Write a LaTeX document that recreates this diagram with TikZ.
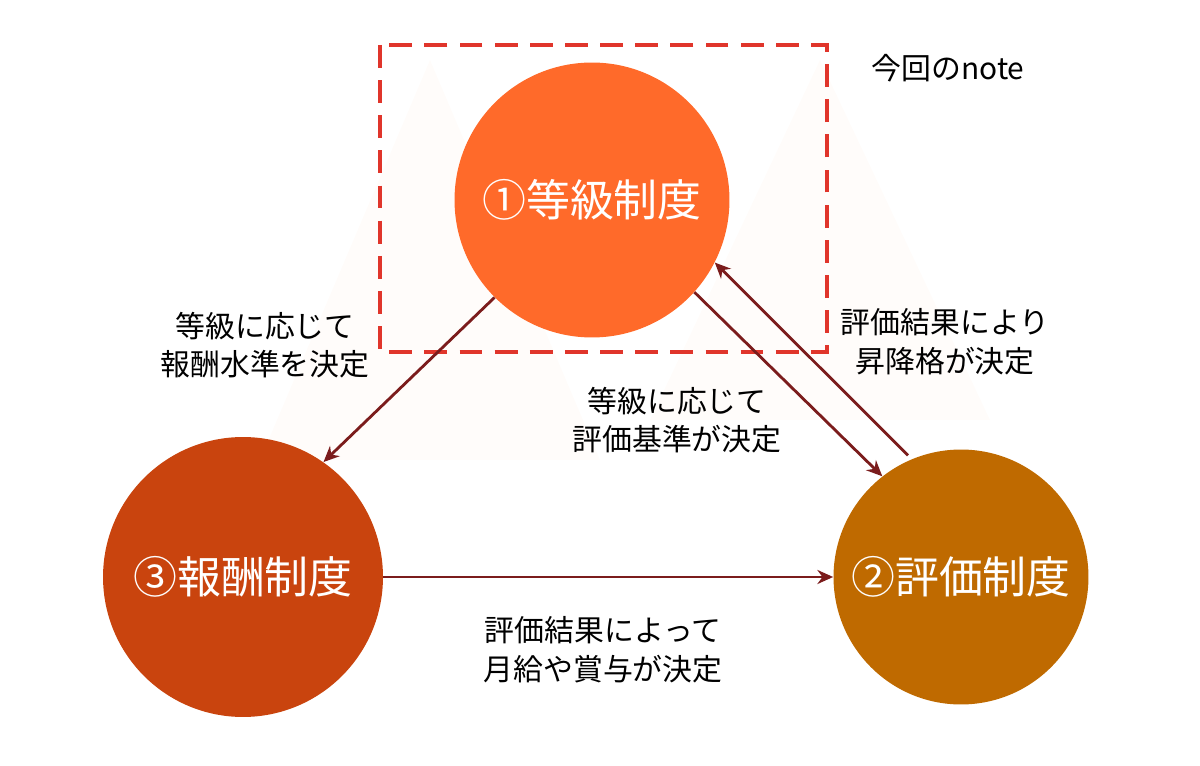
\documentclass[tikz,border=0pt]{standalone}
\usepackage{fontspec}
\setmainfont{Noto Sans CJK JP}
\usetikzlibrary{arrows.meta}
\definecolor{gradeorange}{HTML}{FF6A2A}
\definecolor{payred}{HTML}{C9440E}
\definecolor{evalbrown}{HTML}{BF6A00}
\definecolor{arrowred}{HTML}{7B1C1C}
\definecolor{boxred}{HTML}{E0352B}
\tikzset{
  sysnode/.style={circle, inner sep=0pt, text=white, font=\fontsize{25}{29}\selectfont},
  flow/.style={-{Stealth[length=9pt,width=8pt]}, line width=1.6pt, color=arrowred},
  memo/.style={align=center, font=\fontsize{17}{22}\selectfont}
}
\begin{document}
\begin{tikzpicture}[x=0.02cm, y=-0.02cm]
        \useasboundingbox (0,0) rectangle (1200,766);
        % faint background peaks
        \fill [fill=orange!2](260,460) -- (430,60) -- (600,460) -- cycle;
        \fill [fill=orange!2](650,420) -- (820,60) -- (990,420) -- cycle;

        \node[sysnode, fill=gradeorange, minimum size=5.5cm] (grade) at (592,200) {①等級制度};
        \node[sysnode, fill=payred, minimum size=5.6cm] (pay) at (243,577) {③報酬制度};
        \node[sysnode, fill=evalbrown, minimum size=5.1cm] (eval) at (961,577) {②評価制度};

        \draw [boxred, line width=2.6pt, dash pattern=on 13pt off 7pt](380,45) rectangle (827,352);
        \node[memo] (note) at (948,68) {今回のnote};

        \draw [flow](grade.-135) -- (pay.55);
        \draw [flow](grade.-42) -- (eval.128);
        \draw [flow]([shift={(-3,-4)}]eval.113) -- (grade.-27);
        \draw [flow](pay.0) -- (eval.180);

        \node[memo] (paylabel) at (265,345) {等級に応じて\\報酬水準を決定};
        \node[memo] (evallabel) at (677,420) {等級に応じて\\評価基準が決定};
        \node[memo] (promolabel) at (945,342) {評価結果により\\昇降格が決定};
        \node[memo] (salarylabel) at (603,650) {評価結果によって\\月給や賞与が決定};
\end{tikzpicture}
\end{document}
